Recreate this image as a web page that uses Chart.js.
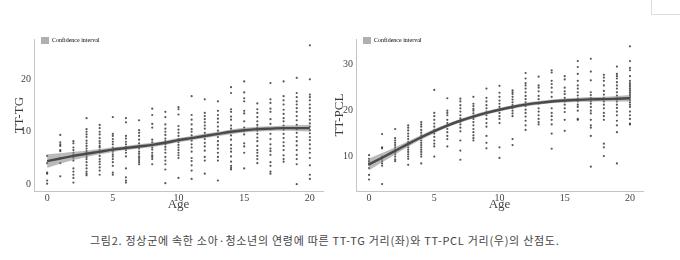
<!DOCTYPE html>
<html>
<head>
<meta charset="utf-8">
<script src="https://cdn.jsdelivr.net/npm/chart.js@4.4.1/dist/chart.umd.min.js"></script>
<style>
  body { margin: 0; background: #fff; }
  #page { position: relative; width: 680px; height: 260px; overflow: hidden; background: #fff; }
  #leftBox { position: absolute; left: 0; top: 30px; width: 330px; height: 185px; }
  #rightBox { position: absolute; left: 330px; top: 30px; width: 350px; height: 185px; }
  #caption { position: absolute; left: 90px; top: 232px; font-family: "Noto Sans CJK KR", sans-serif; font-size: 11px; letter-spacing: 0.72px; color: #444; white-space: nowrap; }
  #corner { position: absolute; left: 651px; top: -1px; width: 40px; height: 15px; border-left: 1px solid #ddd; border-bottom: 1px solid #ddd; }
</style>
</head>
<body>
<div id="page">
  <div id="corner"></div>
  <div id="leftBox"><canvas id="leftChart"></canvas></div>
  <div id="rightBox"><canvas id="rightChart"></canvas></div>
  <div id="caption">그림2. 정상군에 속한 소아·청소년의 연령에 따른 TT-TG 거리(좌)와 TT-PCL 거리(우)의 산점도.</div>
</div>
<script>
// ages on the x axis
var ages = [0,1,2,3,4,5,6,7,8,9,10,11,12,13,14,15,16,17,18,19,20];
var xTicks = [0,5,10,15,20];

// TT-TG (left), one list of readings per age
var ttTgByAge = [
  [5.4, 4.0, 2.2, 2.0, 0.7, 0.1],
  [9.4, 8.0, 7.6, 7.3, 6.5, 6.3, 5.0, 4.0, 1.5],
  [8.2, 7.8, 7.0, 6.5, 6.0, 5.6, 5.3, 5.0, 4.5, 3.0, 2.4, 1.8, 1.2, 0.3],
  [12.6, 10.5, 10.0, 9.5, 9.0, 8.3, 7.8, 7.3, 6.8, 6.3, 6.0, 5.6, 5.2, 4.8, 4.2, 3.6, 3.0, 2.4, 2.0, 1.7],
  [11.3, 10.7, 10.0, 9.5, 8.8, 8.2, 7.8, 7.3, 7.0, 6.5, 6.0, 5.4, 4.8, 4.3, 3.8, 3.2, 2.6, 1.8],
  [12.8, 9.6, 9.2, 8.6, 8.1, 7.6, 7.0, 6.6, 6.2, 5.7, 5.3, 4.8, 4.2, 3.5, 2.2, 1.8],
  [12.6, 11.8, 9.2, 8.7, 8.1, 7.6, 7.1, 6.5, 6.0, 5.3, 3.0, 1.3, 0.7, 0.3],
  [12.2, 10.3, 9.8, 9.2, 8.5, 7.8, 7.3, 6.8, 6.2, 5.8, 5.3, 5.0, 4.6, 4.2, 3.8],
  [14.4, 13.2, 11.5, 10.8, 8.5, 8.0, 7.5, 7.0, 6.6, 6.0, 5.5, 5.2, 4.8, 3.8],
  [13.8, 12.8, 11.4, 10.6, 10.0, 9.4, 8.7, 8.2, 7.6, 7.1, 6.6, 6.0, 5.2, 4.5, 3.8, 2.8, 0.2],
  [14.7, 14.3, 13.3, 11.1, 10.4, 9.8, 9.2, 8.6, 8.0, 7.5, 7.0, 6.5, 6.0, 5.5, 5.0, 1.2],
  [16.8, 13.2, 12.3, 11.4, 10.5, 10.0, 9.3, 8.8, 8.3, 7.6, 7.0, 6.2, 5.0, 4.4, 3.6, 2.6, 1.0],
  [16.2, 13.6, 13.0, 12.4, 11.8, 11.2, 10.6, 9.8, 9.2, 8.6, 7.9, 7.2, 6.4, 5.2, 4.5, 2.0],
  [15.8, 14.0, 13.2, 12.5, 11.8, 11.0, 10.2, 9.6, 9.0, 8.2, 7.5, 6.8, 6.0, 5.2, 4.5, 0.7],
  [18.5, 17.4, 14.3, 13.8, 12.9, 12.3, 11.2, 10.6, 10.0, 9.3, 8.5, 7.5, 6.8, 6.2, 5.3, 4.3, 3.5, 3.1, 2.8],
  [19.6, 17.5, 16.4, 15.8, 14.0, 13.5, 12.0, 10.8, 10.2, 9.5, 7.8, 7.2, 6.0, 3.0],
  [15.4, 14.3, 13.6, 12.8, 12.0, 11.3, 10.8, 10.2, 9.6, 8.9, 8.2, 7.3, 6.5, 6.0, 5.4, 4.8, 4.0],
  [19.3, 16.2, 15.5, 14.4, 13.8, 12.4, 11.5, 10.5, 9.6, 8.6, 7.6, 6.8, 6.3, 5.6, 4.2, 3.5, 2.4, 2.0],
  [19.6, 16.8, 16.0, 15.2, 14.2, 13.4, 12.6, 12.0, 11.2, 10.4, 9.6, 8.8, 8.0, 7.3, 6.5, 5.5, 4.8, 4.3],
  [20.3, 17.4, 16.6, 15.8, 15.2, 14.5, 13.8, 13.0, 12.2, 11.3, 10.5, 9.8, 9.0, 8.2, 7.4, 6.5, 5.6, 4.8, 3.8, 0.0],
  [26.5, 20.0, 17.1, 16.6, 16.0, 15.2, 14.5, 13.8, 13.0, 12.3, 11.6, 11.0, 10.3, 9.7, 9.0, 8.4, 7.6, 6.8, 6.0, 5.0, 3.6, 1.8, 1.0]
];
var ttTgFit    = [4.4, 4.9, 5.4, 5.8, 6.2, 6.6, 6.9, 7.2, 7.5, 7.9, 8.4, 8.8, 9.2, 9.6, 10.0, 10.3, 10.5, 10.6, 10.7, 10.7, 10.7];
var ttTgCiLow  = [3.1, 3.9, 4.6, 5.2, 5.7, 6.15, 6.5, 6.8, 7.1, 7.5, 8.0, 8.4, 8.8, 9.2, 9.55, 9.85, 10.05, 10.15, 10.2, 10.15, 10.05];
var ttTgCiHigh = [5.7, 5.9, 6.2, 6.4, 6.7, 7.05, 7.3, 7.6, 7.9, 8.3, 8.8, 9.2, 9.6, 10.0, 10.45, 10.75, 10.95, 11.05, 11.2, 11.25, 11.35];
var ttTgTicks = [0, 10, 20];

// TT-PCL (right)
var ttPclByAge = [
  [10.3, 9.5, 9.0, 8.5, 8.2, 7.5, 6.0, 5.0],
  [14.9, 12.0, 11.8, 10.0, 9.5, 9.0, 8.5, 8.0, 4.0],
  [16.0, 14.0, 13.5, 13.0, 12.5, 12.0, 11.5, 11.0, 10.5, 10.0, 9.4, 9.0],
  [16.8, 16.3, 15.7, 15.0, 14.4, 13.8, 13.2, 12.6, 12.0, 11.5, 11.0, 10.5, 10.0, 9.5, 8.2],
  [17.5, 17.0, 16.5, 15.8, 15.2, 14.6, 14.0, 13.5, 13.0, 12.5, 12.0, 11.5, 11.0, 10.5, 10.0, 8.5],
  [24.5, 19.5, 18.8, 18.0, 17.2, 16.5, 15.8, 15.0, 14.3, 13.5, 12.8, 12.2, 10.0],
  [22.7, 20.0, 19.5, 19.0, 18.0, 17.3, 16.7, 16.0, 15.3, 14.5, 13.8, 12.2],
  [22.6, 22.0, 21.2, 20.5, 19.8, 19.0, 18.3, 17.6, 17.0, 16.3, 15.5, 13.5, 11.3, 9.3],
  [23.0, 21.5, 21.0, 20.4, 20.0, 19.4, 18.8, 18.2, 17.5, 16.8, 16.0, 15.3, 14.6, 14.0, 13.5],
  [24.8, 22.8, 22.0, 21.2, 20.5, 19.8, 19.0, 18.2, 17.3, 16.5, 14.5, 13.0, 11.8],
  [25.4, 23.9, 23.0, 22.2, 21.5, 20.8, 20.2, 19.5, 18.8, 18.2, 17.3, 12.0, 9.7],
  [24.4, 24.0, 23.6, 23.0, 22.4, 21.8, 21.2, 20.6, 20.0, 19.4, 18.8, 13.8, 12.5],
  [28.2, 27.0, 26.0, 25.5, 24.8, 24.0, 23.2, 22.5, 21.8, 21.0, 20.2, 19.5, 18.7, 17.8, 16.8, 15.8],
  [27.4, 25.5, 25.0, 24.2, 23.2, 22.5, 21.5, 20.5, 19.8, 19.0, 18.2, 17.5, 17.0],
  [28.8, 28.3, 26.5, 25.8, 25.0, 24.0, 23.0, 22.0, 20.5, 19.5, 18.8, 18.0, 17.0, 15.0, 11.7],
  [27.5, 26.8, 25.0, 24.2, 23.6, 22.8, 22.0, 21.3, 20.5, 19.7, 18.0, 15.6],
  [30.8, 29.5, 28.0, 26.5, 25.5, 24.8, 24.0, 23.3, 22.6, 22.0, 21.3, 20.8, 20.0, 18.2, 18.0],
  [31.3, 28.5, 26.6, 24.0, 23.4, 22.8, 22.0, 21.5, 20.8, 20.0, 19.4, 18.0, 16.8, 16.3, 14.5, 7.8],
  [27.8, 27.2, 26.5, 25.5, 24.3, 23.5, 22.8, 22.0, 21.3, 20.5, 19.5, 18.8, 18.0, 12.8, 12.0, 10.1],
  [29.6, 28.0, 27.5, 27.0, 26.2, 25.5, 24.8, 24.0, 23.3, 22.6, 22.0, 21.3, 20.6, 19.8, 19.0, 17.8, 16.8, 15.3, 8.5],
  [34.0, 30.8, 29.3, 28.8, 27.5, 26.5, 26.0, 25.6, 25.2, 24.8, 24.4, 24.0, 23.6, 23.2, 22.8, 22.3, 21.8, 21.3, 20.8, 19.8, 19.0, 18.2, 17.2, 17.0]
];
var ttPclFit    = [8.3, 9.75, 11.25, 12.75, 14.2, 15.55, 16.75, 17.8, 18.7, 19.5, 20.2, 20.8, 21.3, 21.7, 22.0, 22.2, 22.35, 22.45, 22.5, 22.6, 22.7];
var ttPclCiLow  = [7.0, 8.75, 10.45, 12.15, 13.7, 15.1, 16.35, 17.4, 18.3, 19.1, 19.8, 20.4, 20.9, 21.3, 21.6, 21.75, 21.9, 21.95, 22.0, 22.0, 22.0];
var ttPclCiHigh = [9.6, 10.75, 12.05, 13.35, 14.7, 16.0, 17.15, 18.2, 19.1, 19.9, 20.6, 21.2, 21.7, 22.1, 22.4, 22.65, 22.8, 22.95, 23.0, 23.2, 23.4];
var ttPclTicks = [10, 20, 30];

var serif = "'Liberation Serif', 'DejaVu Serif', serif";

function toPoints(byAge) {
  var pts = [];
  byAge.forEach(function(vals, i) {
    vals.forEach(function(v) { pts.push({x: ages[i], y: v}); });
  });
  return pts;
}

function toLine(vals) {
  return vals.map(function(v, i) { return {x: ages[i], y: v}; });
}

function makeChart(id, cfg) {
  var smooth = { showLine: true, pointRadius: 0, cubicInterpolationMode: 'monotone' };
  return new Chart(document.getElementById(id), {
    type: 'scatter',
    data: {
      datasets: [
        { data: toPoints(cfg.byAge), pointRadius: 1.1, pointHoverRadius: 1.1, pointBackgroundColor: 'rgba(45,45,45,0.8)', pointBorderWidth: 0, order: 3 },
        Object.assign({ data: toLine(cfg.low), borderWidth: 0, fill: false, order: 2 }, smooth),
        Object.assign({ data: toLine(cfg.high), borderWidth: 0, fill: '-1', backgroundColor: 'rgba(140,140,140,0.6)', order: 2 }, smooth),
        Object.assign({ data: toLine(cfg.fit), borderColor: '#4a4a4a', borderWidth: 2.4, order: 1 }, smooth)
      ]
    },
    options: {
      responsive: true,
      maintainAspectRatio: false,
      animation: false,
      events: [],
      layout: { padding: { top: 7, right: cfg.padRight, bottom: 0, left: 0 } },
      plugins: {
        tooltip: { enabled: false },
        legend: {
          position: 'chartArea',
          align: 'start',
          labels: {
            boxWidth: 8,
            boxHeight: 7,
            padding: 7,
            color: '#555',
            font: { family: serif, size: 6 },
            generateLabels: function() {
              return [{ text: 'Confidence interval', fillStyle: '#b0b0b0', strokeStyle: '#b0b0b0', lineWidth: 0, hidden: false, datasetIndex: 2 }];
            }
          }
        }
      },
      scales: {
        x: {
          type: 'linear',
          min: -1,
          max: 21,
          grid: { display: false, drawTicks: false },
          border: { display: true, color: '#c4c4c4', width: 1 },
          ticks: { padding: 1, color: '#444', font: { family: serif, size: 10 } },
          afterBuildTicks: function(s) { s.ticks = xTicks.map(function(v) { return {value: v}; }); },
          afterFit: function(s) { s.height = 24; },
          title: { display: true, text: 'Age', color: '#444', padding: { top: 0, bottom: 3 }, font: { family: serif, size: 13 } }
        },
        y: {
          type: 'linear',
          min: cfg.yMin,
          max: cfg.yMax,
          grid: { display: false, drawTicks: false },
          border: { display: true, color: '#c4c4c4', width: 1 },
          ticks: { padding: 3, color: '#444', font: { family: serif, size: 10 } },
          afterBuildTicks: function(s) { s.ticks = cfg.ticks.map(function(v) { return {value: v}; }); },
          afterFit: function(s) { s.width = cfg.yWidth; },
          title: { display: true, text: cfg.title, color: '#3a3a3a', padding: { top: cfg.titlePad, bottom: 0 }, font: { family: serif, size: 13 } }
        }
      }
    }
  });
}

makeChart('leftChart', {
  byAge: ttTgByAge, fit: ttTgFit, low: ttTgCiLow, high: ttTgCiHigh,
  ticks: ttTgTicks, yMin: -1.3, yMax: 27.7, title: 'TT-TG',
  yWidth: 34, titlePad: 12, padRight: 7
});

makeChart('rightChart', {
  byAge: ttPclByAge, fit: ttPclFit, low: ttPclCiLow, high: ttPclCiHigh,
  ticks: ttPclTicks, yMin: 2.5, yMax: 35.6, title: 'TT-PCL',
  yWidth: 26, titlePad: 2, padRight: 37
});
</script>
</body>
</html>
